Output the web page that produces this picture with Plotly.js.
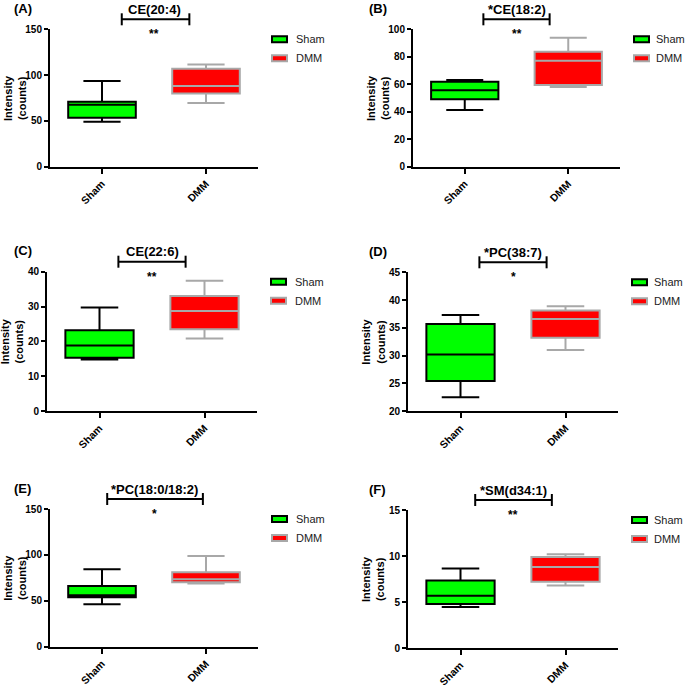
<!DOCTYPE html>
<html><head><meta charset="utf-8">
<script src="https://cdn.plot.ly/plotly-3.0.1.min.js"></script>
<style>html,body{margin:0;padding:0;background:#fff}#chart{width:685px;height:688px}</style>
</head><body><div id="chart"></div>
<script>
// ---- data ----
const categories = ['Sham', 'DMM'];
const panelLabels = ['(A)', '(B)', '(C)', '(D)', '(E)', '(F)'];
const panelTitles = ['CE(20:4)', '*CE(18:2)', 'CE(22:6)', '*PC(38:7)', '*PC(18:0/18:2)', '*SM(d34:1)'];
const significance = ['**', '**', '**', '*', '*', '**'];

const shamLower = [49, 41.3, 14.8, 22.5, 46.2, 4.46];
const shamQ1 = [53.5, 49, 15.3, 25.4, 54, 4.78];
const shamMedian = [67.5, 55.6, 18.8, 30.2, 56, 5.68];
const shamQ3 = [71, 61.9, 23.2, 35.7, 66, 7.34];
const shamUpper = [93.5, 63.1, 29.7, 37.3, 84.5, 8.63];

const dmmLower = [69.5, 58, 20.8, 31.0, 68.8, 6.8];
const dmmQ1 = [80, 59.5, 23.5, 33.2, 70.3, 7.19];
const dmmMedian = [88, 77.2, 28.7, 36.6, 73.4, 8.81];
const dmmQ3 = [107, 83.7, 33.0, 38.1, 81, 9.9];
const dmmUpper = [111.6, 93.9, 37.4, 38.9, 98.9, 10.2];

const yMin = [0, 0, 0, 20, 0, 0];
const yMax = [150, 100, 40, 45, 150, 15];
const yStep = [50, 20, 10, 5, 50, 5];

// ---- layout geometry (pixels) ----
const W = 685, H = 688;
const plotBoxes = [
  [50, 258, 29.3, 166.7],
  [413, 620, 29.3, 166.7],
  [47, 257, 271.7, 411],
  [408, 618, 272.3, 411],
  [50, 258, 509, 646.7],
  [408, 618, 510, 648]
];
const bracketSpan = [[0.19, 0.84], [0.18, 0.82], [0.18, 0.82], [0.18, 0.82], [0.05, 0.97], [0.14, 0.87]];
const labelX = [12, 367, 12, 367, 12, 367];
const legendTextGap = [22, 20, 22, 20, 22, 20];

const FONT = 'Arial, "Liberation Sans", sans-serif';
const px = v => v / W;
const py = v => 1 - v / H;

const traces = [];
const shapes = [];
const annotations = [];
const layout = {
  width: W, height: H,
  margin: {l: 0, r: 0, t: 0, b: 0, pad: 0},
  paper_bgcolor: '#fff', plot_bgcolor: '#fff',
  showlegend: false,
  font: {family: FONT, color: '#000'},
  boxmode: 'overlay'
};

for (let i = 0; i < 6; i++) {
  const s = i === 0 ? '' : String(i + 1);
  const [x0, x1, y0, y1] = plotBoxes[i];
  layout['xaxis' + s] = {
    domain: [px(x0), px(x1)], anchor: 'y' + s,
    type: 'category', categoryorder: 'array', categoryarray: categories,
    range: [-0.5, 1.5],
    showline: true, linewidth: 2, linecolor: '#000',
    ticks: 'outside', ticklen: 5, tickwidth: 2, tickcolor: '#000',
    tickangle: -45,
    tickfont: {family: FONT, size: 10.5, color: '#000', weight: 'bold'},
    showgrid: false, zeroline: false, fixedrange: true
  };
  layout['yaxis' + s] = {
    domain: [py(y1), py(y0)], anchor: 'x' + s,
    range: [yMin[i], yMax[i]], tick0: yMin[i], dtick: yStep[i], tickmode: 'linear',
    showline: true, linewidth: 2, linecolor: '#000',
    ticks: 'outside', ticklen: 4, tickwidth: 2, tickcolor: '#000',
    tickfont: {family: FONT, size: 10, color: '#000', weight: 'bold'},
    showgrid: false, zeroline: false, fixedrange: true
  };

  traces.push({
    type: 'box', name: categories[0], x: [categories[0]],
    lowerfence: [shamLower[i]], q1: [shamQ1[i]], median: [shamMedian[i]], q3: [shamQ3[i]], upperfence: [shamUpper[i]],
    xaxis: 'x' + s, yaxis: 'y' + s,
    width: 0.65, whiskerwidth: 0.55, boxpoints: false,
    fillcolor: '#00ff00', line: {color: '#000', width: 2}, hoverinfo: 'skip'
  });
  traces.push({
    type: 'box', name: categories[1], x: [categories[1]],
    lowerfence: [dmmLower[i]], q1: [dmmQ1[i]], median: [dmmMedian[i]], q3: [dmmQ3[i]], upperfence: [dmmUpper[i]],
    xaxis: 'x' + s, yaxis: 'y' + s,
    width: 0.65, whiskerwidth: 0.55, boxpoints: false,
    fillcolor: '#ff0000', line: {color: '#a8a8a8', width: 2}, hoverinfo: 'skip'
  });

  // significance bracket
  const [bl, br] = bracketSpan[i];
  const by = y0 - 10;
  shapes.push({type: 'line', xref: 'x' + s, yref: 'paper', x0: bl, x1: br, y0: py(by), y1: py(by), line: {color: '#000', width: 2}});
  shapes.push({type: 'line', xref: 'x' + s, yref: 'paper', x0: bl, x1: bl, y0: py(by - 6), y1: py(by + 6), line: {color: '#000', width: 2}});
  shapes.push({type: 'line', xref: 'x' + s, yref: 'paper', x0: br, x1: br, y0: py(by - 6), y1: py(by + 6), line: {color: '#000', width: 2}});

  // title, stars, panel label
  const cx = px((x0 + x1) / 2);
  annotations.push({text: panelTitles[i], xref: 'paper', yref: 'paper', x: cx, y: py(y0 - 20), xanchor: 'center', yanchor: 'middle', showarrow: false,
    font: {family: FONT, size: 13, color: '#000', weight: 'bold'}});
  annotations.push({text: significance[i], xref: 'paper', yref: 'paper', x: cx, y: py(y0 + 5), xanchor: 'center', yanchor: 'middle', showarrow: false,
    font: {family: FONT, size: 12, color: '#000', weight: 'bold'}});
  annotations.push({text: panelLabels[i], xref: 'paper', yref: 'paper', x: px(labelX[i]), y: py(y0 - 21), xanchor: 'left', yanchor: 'middle', showarrow: false,
    font: {family: FONT, size: 13, color: '#000', weight: 'bold'}});
  // y-axis title
  annotations.push({text: 'Intensity<br>(counts)', xref: 'paper', yref: 'paper', x: px(x0 - 35), y: py((y0 + y1) / 2), xanchor: 'center', yanchor: 'middle',
    textangle: -90, showarrow: false, font: {family: FONT, size: 11, color: '#000', weight: 'bold'}});

  // legend
  const lx = x1 + 14;
  const legendFill = ['#00ff00', '#ff0000'];
  const legendLine = ['#000', '#a8a8a8'];
  [y0 + 10, y0 + 29].forEach((ly, k) => {
    shapes.push({type: 'rect', xref: 'paper', yref: 'paper', x0: px(lx), x1: px(lx + 15), y0: py(ly + 3), y1: py(ly - 3),
      fillcolor: legendFill[k], line: {color: legendLine[k], width: 2}});
    annotations.push({text: categories[k], xref: 'paper', yref: 'paper', x: px(lx + legendTextGap[i]), y: py(ly), xanchor: 'left', yanchor: 'middle',
      showarrow: false, font: {family: FONT, size: 11, color: '#222'}});
  });
}
layout.shapes = shapes;
layout.annotations = annotations;

Plotly.newPlot('chart', traces, layout, {staticPlot: true, displayModeBar: false});
</script>
</body></html>
